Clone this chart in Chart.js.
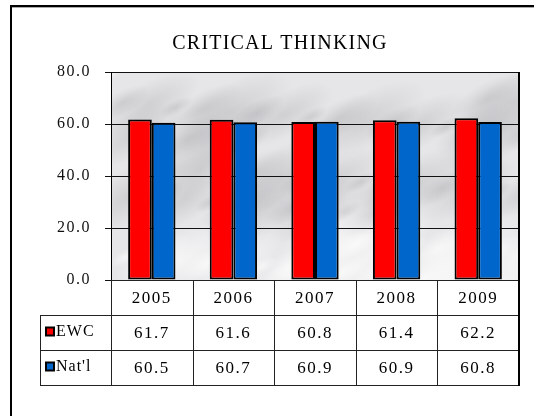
<!DOCTYPE html>
<html>
<head>
<meta charset="utf-8">
<script src="https://cdn.jsdelivr.net/npm/chart.js@4"></script>
<style>
  html,body{margin:0;padding:0;background:#fff;}
  canvas{display:block;}
</style>
</head>
<body>
<canvas id="chart" width="534" height="416"></canvas>
<script>
const years=['2005','2006','2007','2008','2009'];
const ewc=[61.7,61.6,60.8,61.4,62.2];
const natl=[60.5,60.7,60.9,60.9,60.8];
const seriesNames=['EWC',"Nat'l"];
const seriesColors=['#ff0000','#0066cc'];

const SERIF='"Liberation Serif","Times New Roman",serif';

// marble-ish background, title, outer frame and the data table under the plot
const tablePlugin={
  id:'tablePlugin',
  beforeDraw(chart){
    const ctx=chart.ctx, a=chart.chartArea;
    ctx.save();
    ctx.fillStyle='#fff';
    ctx.fillRect(0,0,chart.width,chart.height);
    // frame
    ctx.fillStyle='#000';
    ctx.fillRect(10,5,524,2);
    ctx.fillRect(10,5,2,411);
    ctx.fillStyle='#aaa';
    ctx.fillRect(12,7,522,1);
    // plot background, soft grey blotches
    ctx.fillStyle='#e6e6e8';
    ctx.fillRect(a.left,a.top,a.right-a.left,a.bottom-a.top);
    ctx.beginPath();
    ctx.rect(a.left,a.top,a.right-a.left,a.bottom-a.top);
    ctx.clip();
    for(let i=0;i<70;i++){
      const x=a.left+((i*131)%420);
      const y=a.top+((i*71)%215);
      const r=10+(i%5)*7;
      const dark=i%3!==0;
      const rg=ctx.createRadialGradient(x,y,0,x,y,r);
      rg.addColorStop(0,dark?'rgba(150,150,155,0.28)':'rgba(255,255,255,0.6)');
      rg.addColorStop(1,dark?'rgba(150,150,155,0)':'rgba(255,255,255,0)');
      ctx.fillStyle=rg;
      ctx.save();
      ctx.translate(x,y);ctx.rotate(-0.5);ctx.scale(1.8,0.7);ctx.translate(-x,-y);
      ctx.fillRect(x-r,y-r,2*r,2*r);
      ctx.restore();
    }
    ctx.restore();
    // wider spacing for the y tick labels drawn next
    ctx.letterSpacing='1.5px';
  },
  afterDraw(chart){
    const ctx=chart.ctx, a=chart.chartArea, xs=chart.scales.x;
    const rowH=35, top=a.bottom, legLeft=40;
    const colW=(a.right-a.left)/years.length;
    ctx.save();
    // right border of plot
    ctx.fillStyle='#000';
    ctx.fillRect(a.right-1,a.top,2,a.bottom-a.top);
    // title
    ctx.fillStyle='#000';
    ctx.font='20px '+SERIF;
    ctx.letterSpacing='1.2px';
    ctx.textAlign='center';
    ctx.textBaseline='middle';
    ctx.fillText('CRITICAL THINKING',280,44);
    // table grid
    ctx.strokeStyle='#222';
    ctx.lineWidth=1;
    const bottom=top+rowH*3;
    ctx.beginPath();
    ctx.moveTo(a.left,top+0.5);ctx.lineTo(a.right,top+0.5);
    for(let r=1;r<=3;r++){
      const y=Math.round(top+rowH*r)+0.5;
      ctx.moveTo(legLeft,y);ctx.lineTo(a.right,y);
    }
    ctx.moveTo(legLeft+0.5,top+rowH);ctx.lineTo(legLeft+0.5,bottom);
    for(let c=0;c<=years.length;c++){
      const x=Math.round(a.left+colW*c)+0.5;
      ctx.moveTo(x,top);ctx.lineTo(x,bottom);
    }
    ctx.stroke();
    ctx.fillStyle='#000';
    ctx.fillRect(a.right-1,top,2,bottom-top+1);
    // header
    ctx.font='17px '+SERIF;
    ctx.letterSpacing='1.5px';
    ctx.fillStyle='#000';
    years.forEach((yr,i)=>{
      ctx.fillText(yr,xs.getPixelForValue(i),top+rowH/2+1);
    });
    // data rows
    [ewc,natl].forEach((vals,r)=>{
      const cy=top+rowH*(r+1)+rowH/2+1;
      vals.forEach((v,i)=>{
        ctx.textAlign='center';
        ctx.fillText(v.toFixed(1),xs.getPixelForValue(i),cy);
      });
      // legend key
      ctx.fillStyle='#000';
      ctx.fillRect(45,cy-7,10,10);
      ctx.fillStyle=seriesColors[r];
      ctx.fillRect(47,cy-5,6,6);
      ctx.fillStyle='#000';
      ctx.textAlign='left';
      ctx.font='16px '+SERIF;
      ctx.letterSpacing='1px';
      ctx.fillText(seriesNames[r],56,cy-2);
      ctx.font='17px '+SERIF;
      ctx.letterSpacing='1.5px';
    });
    ctx.restore();
  }
};

new Chart(document.getElementById('chart'),{
  type:'bar',
  data:{
    labels:years,
    datasets:[
      {label:seriesNames[0],data:ewc,backgroundColor:seriesColors[0],borderColor:'#000',borderWidth:2,borderSkipped:false},
      {label:seriesNames[1],data:natl,backgroundColor:seriesColors[1],borderColor:'#000',borderWidth:2,borderSkipped:false}
    ]
  },
  options:{
    responsive:false,
    devicePixelRatio:1,
    animation:false,
    layout:{padding:{left:0,right:15,top:72,bottom:136}},
    datasets:{bar:{categoryPercentage:0.58,barPercentage:1}},
    plugins:{legend:{display:false},title:{display:false},tooltip:{enabled:false}},
    scales:{
      x:{display:false},
      y:{
        min:0,max:80,
        afterFit(scale){scale.width=111;},
        ticks:{stepSize:20,color:'#111',padding:14,font:{family:SERIF,size:16},
          callback:v=>v.toFixed(1)},
        grid:{color:'#111',lineWidth:1,tickLength:6,drawTicks:true},
        border:{display:true,color:'#000',width:1}
      }
    }
  },
  plugins:[tablePlugin]
});
</script>
</body>
</html>
